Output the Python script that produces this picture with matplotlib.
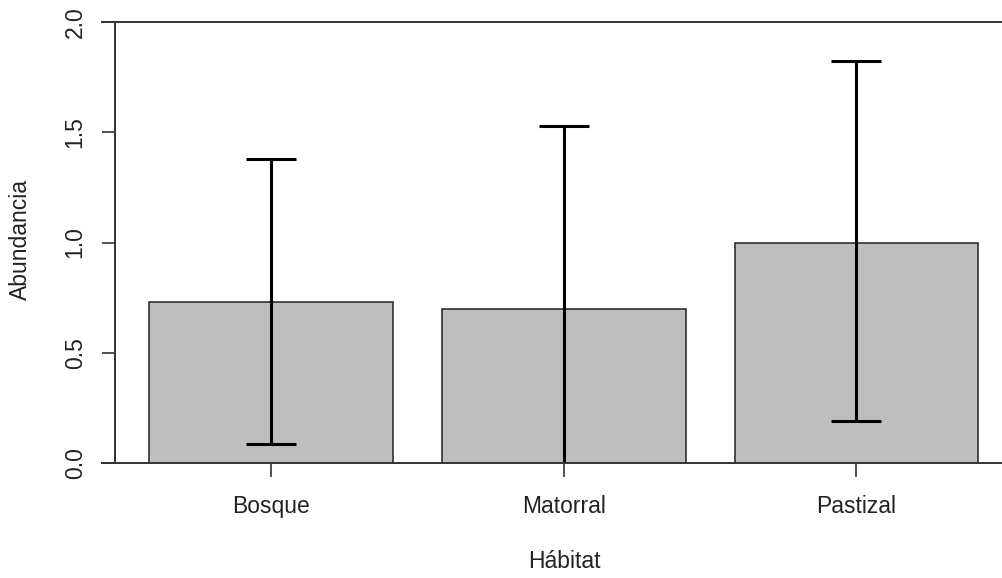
import matplotlib
matplotlib.use("Agg")
from matplotlib import pyplot as plt
import numpy as np

# mean abundance per habitat with lower/upper error limits
habitats = ["Bosque", "Matorral", "Pastizal"]
means = [0.73, 0.70, 1.00]
lower = [0.086, -0.128, 0.19]
upper = [1.379, 1.528, 1.822]
yticks = [0.0, 0.5, 1.0, 1.5, 2.0]

plt.rcParams["font.family"] = ["Liberation Sans", "DejaVu Sans"]

W, H = 1003, 578
fig = plt.figure(figsize=(W / 100, H / 100), dpi=100)
# plot region in pixels: left 115.5, right 1003, top 22, bottom 463
ax = fig.add_axes([115.5 / W, 1 - 463 / H, (1003 - 115.5) / W, (463 - 22) / H])

x = np.arange(len(habitats)) * 1.2
m = np.array(means)
yerr = [m - np.array(lower), np.array(upper) - m]
ax.bar(x, means, width=1.0, color="#bebebe", edgecolor="#222222", linewidth=1.1, zorder=2)
ax.errorbar(x, means, yerr=yerr, fmt="none", ecolor="black", elinewidth=2.2,
            capsize=18, capthick=2.2, zorder=3)

px = 1.2 / 292.75  # data units per pixel along x
ax.set_xlim(x[0] - (271 - 115.5) * px, x[0] + (1003 - 271) * px)
ax.set_ylim(0, 2)

for s in ["top", "right", "bottom"]:
    ax.spines[s].set_visible(False)
ax.spines["left"].set_color("#333333")
ax.spines["left"].set_linewidth(1.4)

# lines along the bottom and top of the frame, reaching out to the tick ends
tr = ax.get_yaxis_transform()
for yv in (0, 2):
    ax.plot([-13.5 / 887.5, 1], [yv, yv], transform=tr, color="#333333",
            linewidth=1.4, clip_on=False, zorder=4)

ax.set_yticks(yticks)
ax.set_yticklabels([f"{v:.1f}" for v in yticks], rotation=90, va="center")
ax.tick_params(axis="y", length=9.7, width=1.2, color="#333333", pad=11,
               labelsize=16.5, labelcolor="#222222")
ax.set_xticks(x)
ax.set_xticklabels(habitats)
ax.tick_params(axis="x", length=10, width=1.2, color="#333333", pad=13,
               labelsize=16.5, labelcolor="#222222")

fig.text(564 / W, 1 - 561 / H, "Hábitat", ha="center", va="center",
         fontsize=16.5, color="#222222")
fig.text(20 / W, 1 - 240 / H, "Abundancia", ha="center", va="center",
         rotation=90, fontsize=16.5, color="#222222")

fig.savefig("out.png", dpi=100)
